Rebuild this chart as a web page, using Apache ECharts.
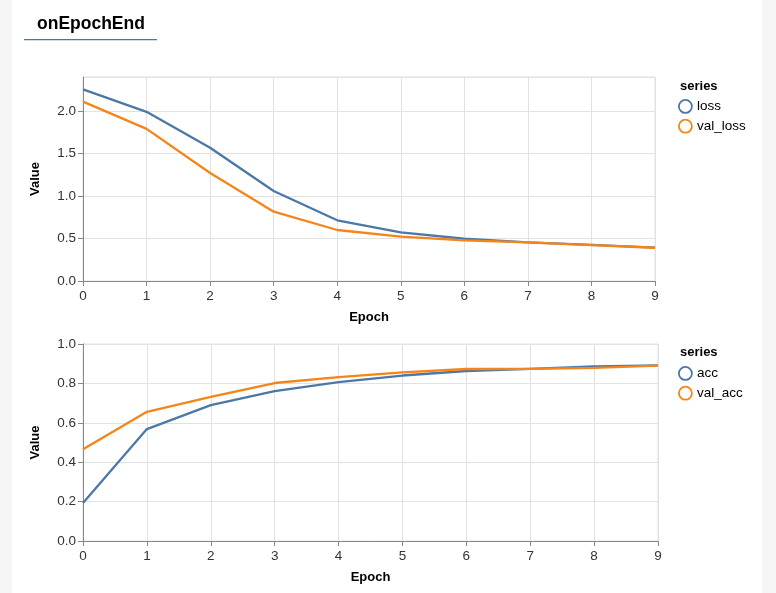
<!DOCTYPE html>
<html style="height: 100%">
<head>
<meta charset="utf-8">
<title>onEpochEnd</title>
<script src="https://cdn.jsdelivr.net/npm/echarts@6/dist/echarts.min.js"></script>
</head>
<body style="height: 100%; margin: 0; background: #fff">
<div id="container" style="width: 776px; height: 593px"></div>
<script type="text/javascript">
// values
var epochs = [0, 1, 2, 3, 4, 5, 6, 7, 8, 9];
var loss = [2.255, 1.99, 1.568, 1.059, 0.714, 0.573, 0.497, 0.455, 0.424, 0.393];
var valLoss = [2.11, 1.79, 1.27, 0.815, 0.60, 0.522, 0.478, 0.455, 0.422, 0.391];
var acc = [0.193, 0.568, 0.69, 0.761, 0.807, 0.84, 0.863, 0.874, 0.886, 0.892];
var valAcc = [0.466, 0.656, 0.731, 0.802, 0.832, 0.856, 0.873, 0.874, 0.879, 0.89];

var BLUE = '#4c78a8';
var ORANGE = '#f58518';
var FONT = 'Liberation Sans, Arial, sans-serif';

function pairs(vals) {
    return epochs.map(function (e, i) { return [e, vals[i]]; });
}

function xAxisOf(idx) {
    return {
        gridIndex: idx, type: 'value', min: 0, max: 9, interval: 1,
        name: 'Epoch', nameLocation: 'middle', nameGap: 30,
        nameTextStyle: { fontFamily: FONT, fontWeight: 'bold', fontSize: 13, color: '#000' },
        axisLine: { lineStyle: { color: '#888' } },
        axisTick: { length: 5, lineStyle: { color: '#888' } },
        axisLabel: { fontFamily: FONT, fontSize: 13.5, color: '#333', margin: 8 },
        splitLine: { lineStyle: { color: '#e2e2e2' } }
    };
}

function yAxisOf(idx, max, step) {
    return {
        gridIndex: idx, type: 'value', min: 0, max: max, interval: step,
        name: 'Value', nameLocation: 'middle', nameGap: 41,
        nameTextStyle: { fontFamily: FONT, fontWeight: 'bold', fontSize: 13, color: '#000' },
        axisLine: { show: true, lineStyle: { color: '#888' } },
        axisTick: { show: true, length: 5, lineStyle: { color: '#888' } },
        axisLabel: {
            fontFamily: FONT, fontSize: 13.5, color: '#333', margin: 7,
            showMaxLabel: max === 1,
            formatter: function (v) { return v.toFixed(1); }
        },
        splitLine: { lineStyle: { color: '#e2e2e2' } }
    };
}

function lineOf(name, vals, color, idx) {
    return {
        name: name, type: 'line', xAxisIndex: idx, yAxisIndex: idx,
        data: pairs(vals), showSymbol: false, symbol: 'none',
        lineStyle: { color: color, width: 2.3 }, itemStyle: { color: color },
        animation: false
    };
}

function legendItem(name, color) {
    return { name: name, itemStyle: { color: '#fff', borderColor: color, borderWidth: 1.8 } };
}

var myChart = echarts.init(document.getElementById('container'));
var option = {
    backgroundColor: '#fff',
    animation: false,
    title: [
        { text: 'onEpochEnd', left: 32, top: 10,
          textStyle: { fontFamily: FONT, fontSize: 17.5, fontWeight: 'bold', color: '#000' } },
        { text: 'series', left: 675, top: 75,
          textStyle: { fontFamily: FONT, fontSize: 13, fontWeight: 'bold', color: '#000' } },
        { text: 'series', left: 675, top: 341,
          textStyle: { fontFamily: FONT, fontSize: 13, fontWeight: 'bold', color: '#000' } }
    ],
    graphic: [
        { type: 'rect', shape: { x: 0, y: 0, width: 12, height: 593 }, style: { fill: '#f5f5f5' }, silent: true },
        { type: 'rect', shape: { x: 762, y: 0, width: 14, height: 593 }, style: { fill: '#f5f5f5' }, silent: true },
        { type: 'rect', shape: { x: 24, y: 39, width: 133, height: 1.2 }, style: { fill: '#3f7ab8' }, silent: true }
    ],
    legend: [
        { orient: 'vertical', left: 673, top: 94, icon: 'circle', itemWidth: 13, itemHeight: 13, itemGap: 5,
          textStyle: { fontFamily: FONT, fontSize: 13.5, color: '#000' },
          data: [legendItem('loss', BLUE), legendItem('val_loss', ORANGE)] },
        { orient: 'vertical', left: 673, top: 361, icon: 'circle', itemWidth: 13, itemHeight: 13, itemGap: 5,
          textStyle: { fontFamily: FONT, fontSize: 13.5, color: '#000' },
          data: [legendItem('acc', BLUE), legendItem('val_acc', ORANGE)] }
    ],
    grid: [
        { left: 83, top: 77, width: 572, height: 204, show: true, borderColor: '#e2e2e2', borderWidth: 1 },
        { left: 83, top: 344, width: 575, height: 197, show: true, borderColor: '#e2e2e2', borderWidth: 1 }
    ],
    xAxis: [xAxisOf(0), xAxisOf(1)],
    yAxis: [yAxisOf(0, 2.4, 0.5), yAxisOf(1, 1, 0.2)],
    series: [
        lineOf('loss', loss, BLUE, 0),
        lineOf('val_loss', valLoss, ORANGE, 0),
        lineOf('acc', acc, BLUE, 1),
        lineOf('val_acc', valAcc, ORANGE, 1)
    ]
};
myChart.setOption(option);
</script>
</body>
</html>
